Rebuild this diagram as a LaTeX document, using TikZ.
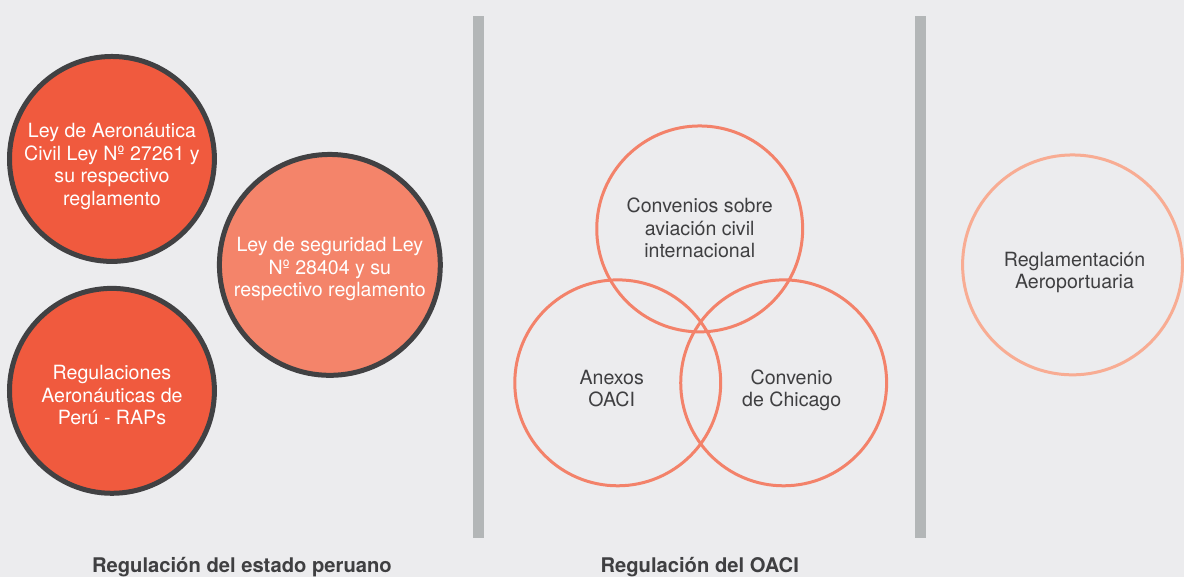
\documentclass[tikz,border=0pt]{standalone}
\usepackage{fontspec}
\setmainfont{TeX Gyre Heros}
\usepackage{xcolor}
\usetikzlibrary{positioning}

\definecolor{bg}{HTML}{ECECEE}
\definecolor{lawred}{HTML}{F05A3E}
\definecolor{lawsalmon}{HTML}{F4846A}
\definecolor{ringgray}{HTML}{414143}
\definecolor{vennline}{HTML}{F3826A}
\definecolor{peach}{HTML}{F8AC93}
\definecolor{sepgray}{HTML}{B3B6B7}
\definecolor{ink}{HTML}{3F3F41}

% centred lines, lowered by #1 (box keeps its size)
\newcommand{\bubbletext}[2]{\raisebox{#1}[\height][\depth]{\begin{tabular}{@{}c@{}}#2\end{tabular}}}

\begin{document}
\begin{tikzpicture}[
    x=1pt, y=-1pt,
    bubble/.style={circle, draw=ringgray, line width=5pt, minimum size=205pt, inner sep=0pt, text=white, font=\fontsize{19.6}{22.5}\selectfont},
    national/.style={bubble, fill=lawred},
    security/.style={bubble, fill=lawsalmon, minimum size=221pt},
    ring/.style={circle, draw=vennline, line width=3pt, minimum size=206pt, inner sep=0pt, text=ink, font=\fontsize{19.6}{22.5}\selectfont},
    airport/.style={ring, draw=peach, minimum size=220pt},
    caption/.style={font=\bfseries\fontsize{20.2}{24}\selectfont, text=ink},
]
% background and separators
\fill[bg] (0,0) rectangle (1184,577);
\fill[sepgray] (473,16) rectangle (484,538);
\fill[sepgray] (915,16) rectangle (926,538);

% national regulation
\node[national] (aero_law) at (112,159) {\bubbletext{-8pt}{Ley de Aeronáutica\\Civil Ley Nº 27261 y\\su respectivo\\reglamento}};
\node[national] (raps) at (112,391) {\bubbletext{-7pt}{Regulaciones\\Aeronáuticas de\\Perú - RAPs}};
\node[security] (sec_law) at (330,265) {\bubbletext{-5pt}{Ley de seguridad Ley\\Nº 28404 y su\\respectivo reglamento}};

% ICAO regulation
\node[ring] (annexes) at (618,383) {\hspace{-12pt}\bubbletext{-8pt}{Anexos\\OACI}};
\node[ring] (chicago) at (784,383) {\hspace{16pt}\bubbletext{-8pt}{Convenio\\de Chicago}};
\node[ring] (convention) at (700,229) {\bubbletext{-2pt}{Convenios sobre\\aviación civil\\internacional}};

% airport rules
\node[airport] (airport_rules) at (1073,265) {\hspace{4pt}\bubbletext{-8pt}{Reglamentación\\Aeroportuaria}};

\node[caption] (cap_peru) at (242,567) {Regulación del estado peruano};
\node[caption] (cap_icao) at (700,567) {Regulación del OACI};
\end{tikzpicture}
\end{document}
